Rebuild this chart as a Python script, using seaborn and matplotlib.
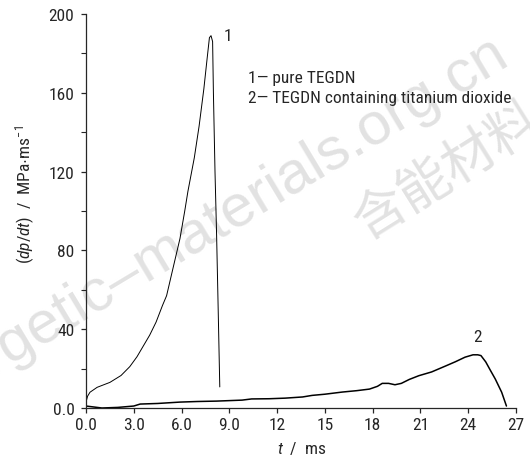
import matplotlib
matplotlib.use("Agg")
import matplotlib.pyplot as plt
from matplotlib import font_manager
from matplotlib.ticker import MultipleLocator, FixedLocator
import seaborn as sns
import pandas as pd

# ---- data ----
t1 = [0, 0.1, 0.25, 0.7, 1.5, 2.2, 2.75, 3.2, 3.6, 4.0, 4.4, 4.8, 5.06, 5.45,
      5.9, 6.2, 6.4, 6.8, 7.1, 7.4, 7.6, 7.75, 7.85, 7.95, 8.0, 8.1, 8.2, 8.3, 8.4]
v1 = [3, 6, 8, 10.5, 13, 16.5, 21, 26, 31.5, 37, 43.6, 52, 57, 70.5,
      86, 100, 110, 127, 143, 162, 177, 188, 189, 186, 160, 120, 88, 50, 10.7]

t2 = [0, 0.5, 1, 2, 3, 3.4, 4.5, 5.9, 7, 8.2, 9.8, 10.4, 11.5, 12.5, 13.6, 14.2,
      15, 16.1, 17, 17.8, 18.3, 18.6, 19.0, 19.4, 19.8, 20.3, 20.9, 21.7, 22.6,
      23.2, 23.8, 24.3, 24.6, 24.8, 25.1, 25.4, 25.7, 26.1, 26.4]
v2 = [1, 0.5, 0, 0.3, 1, 2, 2.3, 3, 3.3, 3.5, 4, 4.6, 4.7, 5, 5.6, 6.4,
      7, 8.1, 8.8, 9.6, 11, 12.5, 12.5, 11.8, 12.5, 14.5, 16.4, 18.3, 21.4,
      23.5, 25.8, 27, 27, 26.6, 23.4, 19, 14.7, 8, 1]

x_ticks = [0, 3, 6, 9, 12, 15, 18, 21, 24, 27]
x_tick_labels = ["0.0", "3.0", "6.0", "9.0", "12", "15", "18", "21", "24", "27"]
y_ticks = [0, 40, 80, 120, 160, 200]
y_tick_labels = ["0.0", "40", "80", "120", "160", "200"]
legend_lines = ["1\u2014 pure TEGDN", "2\u2014 TEGDN containing titanium dioxide"]
watermark_en = "energetic\u2013materials.org.cn"
watermark_zh = "含能材料"

df = pd.concat([
    pd.DataFrame({"t": t1, "v": v1, "curve": "1"}),
    pd.DataFrame({"t": t2, "v": v2, "curve": "2"}),
])

sns.set_style("ticks")
names = {f.name for f in font_manager.fontManager.ttflist}
base = "Liberation Sans"
for cand in ["Liberation Sans Narrow", "Arimo Narrow", "Roboto Condensed",
             "Archivo Narrow", "PT Sans Narrow", "Fira Sans Condensed"]:
    if cand in names:
        base = cand
        break
plt.rcParams["font.family"] = [base, "DejaVu Sans"]
plt.rcParams["mathtext.fontset"] = "custom"
plt.rcParams["mathtext.rm"] = base
plt.rcParams["mathtext.it"] = base + ":italic"

W, H = 530, 456
fig = plt.figure(figsize=(W / 100, H / 100), dpi=100)

# watermark (drawn beneath the axes)
fig.text(511 / W, 1 - 63 / H, watermark_en, rotation=31,
         rotation_mode="anchor", ha="right", va="baseline", fontsize=43,
         color="#e2e2e2", family=["Liberation Sans", "DejaVu Sans"], zorder=0)
fig.text(447 / W, 1 - 172 / H, watermark_zh, rotation=32, rotation_mode="anchor",
         ha="center", va="center", fontsize=38, fontweight="light",
         color="#e2e2e2", family=["Noto Sans CJK SC", "DejaVu Sans"], zorder=0)

ax = fig.add_axes([86 / W, 1 - 409 / H, 430 / W, 394 / H])
ax.set_zorder(2)
ax.patch.set_alpha(0)
sns.lineplot(data=df[df.curve == "1"], x="t", y="v", sort=False, estimator=None,
             color="black", linewidth=0.7, ax=ax)
sns.lineplot(data=df[df.curve == "2"], x="t", y="v", sort=False, estimator=None,
             color="black", linewidth=1.1, ax=ax)

ax.set_xlim(0, 27)
ax.set_ylim(0, 200)
ax.xaxis.set_major_locator(FixedLocator(x_ticks))
ax.set_xticklabels(x_tick_labels)
ax.yaxis.set_major_locator(FixedLocator(y_ticks))
ax.set_yticklabels(y_tick_labels)
ax.yaxis.set_minor_locator(MultipleLocator(20))
ax.tick_params(axis="both", which="major", direction="out", length=3.8, width=0.9,
               labelsize=12.5)
ax.tick_params(axis="y", which="major", pad=4.5)
ax.tick_params(axis="x", which="major", pad=2.5)
ax.tick_params(axis="y", which="minor", direction="out", length=3.5, width=0.8)
for s in ["top", "right"]:
    ax.spines[s].set_visible(False)
for s in ["left", "bottom"]:
    ax.spines[s].set_linewidth(0.9)

ax.set_xlabel(r"$\mathit{t}$  /  ms", fontsize=12.5)
ax.set_ylabel(r"($\mathit{dp/dt}$)  /  MPa$\cdot$ms$^{-1}$", fontsize=12.5)
ax.xaxis.set_label_coords(0.502, -(440 - 409) / 394)
ax.yaxis.set_label_coords((37 - 86) / 430, (409 - 195) / 394)

ax.text(8.91, 189, "1", fontsize=12.5, ha="center", va="center")
ax.text(24.6, 36.5, "2", fontsize=12.5, ha="center", va="center")
ax.text(10.2, 165.5, legend_lines[0], fontsize=12.5, ha="left", va="baseline")
ax.text(10.2, 155.3, legend_lines[1], fontsize=12.5, ha="left", va="baseline")

fig.savefig("out.png", dpi=100)
